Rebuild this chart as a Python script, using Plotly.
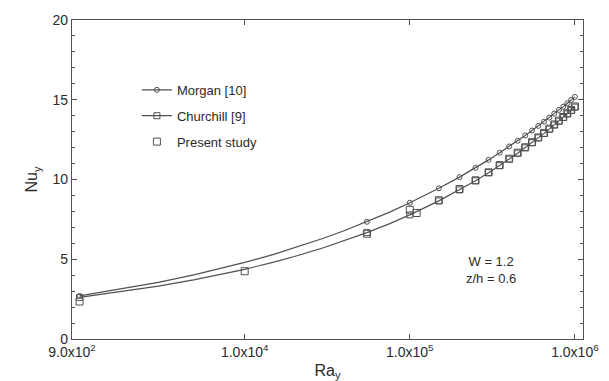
import plotly.graph_objects as go

# ---- data ----
ra_curve = [1e3, 2e3, 3e3, 5e3, 7e3, 1e4, 1.5e4, 2e4, 3e4, 4e4, 5.5e4, 7.5e4, 1e5,
            1.5e5, 2e5, 2.5e5, 3e5, 3.5e5, 4e5, 4.5e5, 5e5, 5.5e5, 6e5, 6.5e5,
            7e5, 7.5e5, 8e5, 8.5e5, 9e5, 9.5e5, 1e6]
nu_morgan = [2.70, 3.21, 3.55, 4.04, 4.39, 4.80, 5.31, 5.71, 6.32, 6.79, 7.35, 7.94, 8.54,
             9.45, 10.15, 10.73, 11.23, 11.68, 12.07, 12.43, 12.76, 13.07, 13.36, 13.63,
             13.88, 14.13, 14.36, 14.57, 14.78, 14.99, 15.18]
nu_churchill = [2.61, 3.03, 3.31, 3.72, 4.02, 4.37, 4.82, 5.17, 5.72, 6.15, 6.67, 7.22, 7.78,
                8.66, 9.35, 9.92, 10.43, 10.87, 11.28, 11.65, 11.99, 12.31, 12.61, 12.89,
                13.16, 13.42, 13.66, 13.89, 14.12, 14.33, 14.54]
ra_marked = [1e3, 5.5e4, 1e5, 1.5e5, 2e5, 2.5e5, 3e5, 3.5e5, 4e5, 4.5e5, 5e5, 5.5e5,
             6e5, 6.5e5, 7e5, 7.5e5, 8e5, 8.5e5, 9e5, 9.5e5, 1e6]

ra_present = [1e3, 1e4, 5.5e4, 1e5, 1.1e5, 1.5e5, 2e5, 2.5e5, 3e5, 3.5e5, 4e5, 4.5e5,
              5e5, 5.5e5, 6e5, 6.5e5, 7e5, 7.5e5, 8e5, 8.5e5, 9e5, 9.5e5, 1e6]
nu_present = [2.35, 4.25, 6.60, 8.10, 7.90, 8.70, 9.40, 9.95, 10.45, 10.90, 11.30, 11.68,
              12.02, 12.34, 12.64, 12.92, 13.19, 13.45, 13.69, 13.92, 14.15, 14.36, 14.58]

x_tickvals = [900, 1e4, 1e5, 1e6]
x_ticktext = ["9.0x10<sup>2</sup>", "1.0x10<sup>4</sup>", "1.0x10<sup>5</sup>", "1.0x10<sup>6</sup>"]

# ---- styling ----
LINE = "#505050"
TXT = "#2b2b2b"
FONT = "Arial, Liberation Sans, sans-serif"
marked = set(ra_marked)
mline = [LINE if r in marked else "rgba(0,0,0,0)" for r in ra_curve]

fig = go.Figure()
fig.add_trace(go.Scatter(
    x=ra_curve, y=nu_morgan, mode="lines+markers", name="Morgan [10]",
    legendgroup="a",
    line=dict(color=LINE, width=1.2),
    marker=dict(symbol="circle-open", size=5, color=mline, line=dict(color=mline, width=1)),
))
fig.add_trace(go.Scatter(
    x=ra_curve, y=nu_churchill, mode="lines+markers", name="Churchill [9]",
    legendgroup="b",
    line=dict(color=LINE, width=1.2),
    marker=dict(symbol="square-open", size=6, color=mline, line=dict(color=mline, width=1)),
))
fig.add_trace(go.Scatter(
    x=ra_present, y=nu_present, mode="markers", name="Present study",
    legendgroup="c",
    marker=dict(symbol="square-open", size=7, color=LINE, line=dict(color=LINE, width=1)),
))

# page body has an 8px margin, so the figure is sized to fit the window from there
fig.update_layout(
    width=601, height=373,
    margin=dict(l=64, r=26, t=12, b=42),
    paper_bgcolor="white", plot_bgcolor="white",
    font=dict(family=FONT, size=14, color=TXT),
    showlegend=True,
    legend=dict(x=0.127, y=0.828, xanchor="left", yanchor="top",
                bgcolor="rgba(0,0,0,0)", font=dict(size=13, color=TXT),
                tracegroupgap=6, itemwidth=30),
)
fig.update_xaxes(
    type="log", range=[2.9542, 6.049], automargin=False,
    tickvals=x_tickvals, ticktext=x_ticktext, tickfont=dict(size=14),
    ticks="inside", ticklen=5, tickcolor=LINE,
    showline=True, linecolor=LINE, linewidth=1.2, mirror="ticks",
    showgrid=False, zeroline=False,
    title=dict(text="Ra<sub>y</sub>", font=dict(size=16), standoff=5),
)
fig.update_yaxes(
    range=[0, 20], tickvals=[0, 5, 10, 15, 20], automargin=False,
    ticks="inside", ticklen=5, tickcolor=LINE, tickfont=dict(size=14),
    minor=dict(dtick=1, ticks="inside", ticklen=3, tickcolor=LINE),
    showline=True, linecolor=LINE, linewidth=1.2, mirror="ticks",
    showgrid=False, zeroline=False,
    title=dict(text="Nu<sub>y</sub>", font=dict(size=16), standoff=10),
)
fig.add_annotation(x=0.82, y=0.215, xref="paper", yref="paper",
                   xanchor="center", yanchor="middle",
                   text="W = 1.2<br>z/h = 0.6", showarrow=False,
                   font=dict(size=13, color=TXT), align="center")

fig.write_html("out.html")
